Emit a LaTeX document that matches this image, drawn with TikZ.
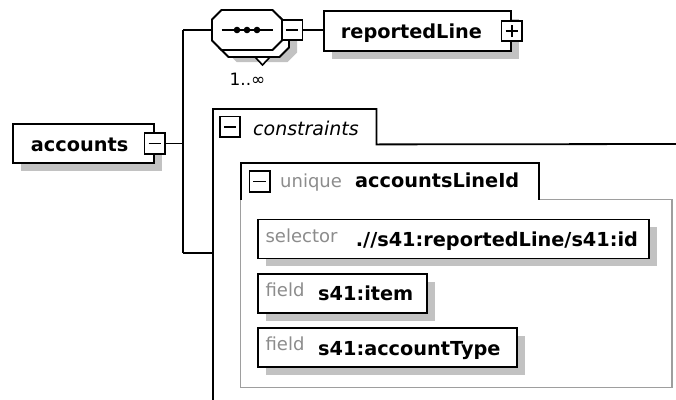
\documentclass[tikz,border=0pt]{standalone}
\usepackage{fontspec}
\setmainfont{DejaVu Sans}
\usepackage{tikz}
\usetikzlibrary{%
positioning,
shadows
}

\definecolor{lblgray}{gray}{0.55}
\definecolor{shadegray}{gray}{0.76}
\definecolor{bodygray}{gray}{0.62}
\newcommand{\xsdbold}{\bfseries\fontsize{19.3}{22}\selectfont}
\newcommand{\xsdlbl}{\mdseries\fontsize{18}{21}\selectfont\color{lblgray}}

\tikzset{
  xsdbox/.style={draw, line width=1.8pt, fill=white, anchor=north west,
    inner ysep=0pt, align=left, minimum height=39pt, text height=15.5pt,
    text depth=0pt, font=\xsdbold,
    drop shadow={shadow xshift=8pt, shadow yshift=-8pt, fill=shadegray, opacity=1}},
  pmbox/.style={draw, fill=white, line width=1.7pt, minimum size=20.5pt, inner sep=0pt,
    path picture={\draw[line width=1.7pt] ([xshift=4pt]path picture bounding box.west)
      -- ([xshift=-4pt]path picture bounding box.east);}},
  ppbox/.style={draw, fill=white, line width=1.7pt, minimum size=20.5pt, inner sep=0pt,
    path picture={\draw[line width=1.7pt] ([xshift=4pt]path picture bounding box.west)
      -- ([xshift=-4pt]path picture bounding box.east)
      ([yshift=4pt]path picture bounding box.south)
      -- ([yshift=-4pt]path picture bounding box.north);}},
  tabbox/.style={inner sep=0pt, anchor=north west},
  tabtext/.style={inner sep=0pt, anchor=base west},
  wire/.style={line width=1.8pt}
}

\begin{document}
\begin{tikzpicture}[x=1pt, y=-1pt]
\useasboundingbox (0,0) rectangle (676,399);
    % element and its sequence
    \node[xsdbox, inner xsep=18pt, text width=105pt] (accounts) at (12,123) {accounts};
    \node[pmbox] (accpm) at (accounts.east) {};
    \node[inner sep=0pt, minimum width=70pt, minimum height=40pt] (seq) at (247,30) {};
        \foreach \dx/\dy/\fc/\dc in {15/12/shadegray/none, 7/7/white/black, 0/0/white/black} {
            \path[fill=\fc, draw=\dc, line width=1.8pt, shift={(\dx,\dy)}]
                (212,19.5) -- (221.5,10) -- (272.5,10) -- (282,19.5)
                -- (282,40.5) -- (272.5,50) -- (221.5,50) -- (212,40.5) -- cycle;
        }
    \draw[line width=1.6pt, fill=white] (255,57) -- (270,57) -- (262.5,65) -- cycle;
    \draw[line width=1.8pt] (221.5,30) -- (272.5,30);
        \foreach \x in {237,247,257} {
            \fill (\x,30) circle (3.3pt);
        }
    \node[pmbox] (seqpm) at ([xshift=10pt]seq.east) {};
    \node[inner sep=0pt, font=\fontsize{17}{20}\selectfont] (mult) at (247.5,79) {1..∞};
    \node[xsdbox, inner xsep=17pt, text width=153pt, minimum height=40pt] (rlbox) at (323,10) {reportedLine};
    \node[ppbox] (rlpp) at (rlbox.east) {};
    % connectors
    \coordinate (jtop) at (183,30);
    \coordinate (jbot) at (183,253);
    \draw[wire] (jtop) -- (jbot);
    \draw[wire] (accpm.east) -- (accpm.east -| jtop);
    \draw[wire] (jtop) -- (seq.west);
    \draw[wire] (seqpm.east) -- (seqpm.east -| rlbox.west);
    % identity constraints
    \node[tabbox, minimum width=163pt, minimum height=35pt] (cons) at (213,109) {};
    \draw[wire] (cons.west |- 0,402) -- (cons.north west) -- (cons.north east)
        -- (cons.south east) -- (680,144);
    \draw[wire] (jbot) -- (jbot -| cons.west);
    \node[pmbox] (conspm) at ([xshift=17pt]cons.west) {};
    \node[tabtext, font=\itshape\fontsize{19}{22}\selectfont] (constext) at (253,135) {constraints};
    \node[tabbox, minimum width=297.6pt, minimum height=36pt] (uq) at (240.7,163.3) {};
    \coordinate (uqend) at (672,387.7);
    \draw[bodygray, line width=1.4pt] (uq.south east) -- (uq.south east -| uqend) -- (uqend)
        -- (uqend -| uq.west) -- (uq.south west);
    \draw[wire] (uq.south west) -- (uq.north west) -- (uq.north east) -- (uq.south east);
    \node[pmbox] (uqpm) at ([xshift=19pt]uq.west) {};
    \node[tabtext, font=\xsdlbl] (uqlbl) at (280,187.3) {unique};
    \node[tabtext, font=\xsdbold] (uqname) at (355,187.3) {accountsLineId};
    \node[xsdbox, inner xsep=8pt, text width=375.3pt] (selbox) at (256.7,218.5)
        {\makebox[90.3pt][l]{\xsdlbl\raisebox{4.5pt}{selector}}.//s41:reportedLine/s41:id};
    \node[xsdbox, inner xsep=8pt, text width=153.3pt] (itembox) at (256.7,272.7)
        {\makebox[52.6pt][l]{\xsdlbl\raisebox{4.5pt}{field}}s41:item};
    \node[xsdbox, inner xsep=8pt, text width=243.3pt] (typebox) at (256.7,327)
        {\makebox[52.6pt][l]{\xsdlbl\raisebox{4.5pt}{field}}s41:accountType};
\end{tikzpicture}
\end{document}
